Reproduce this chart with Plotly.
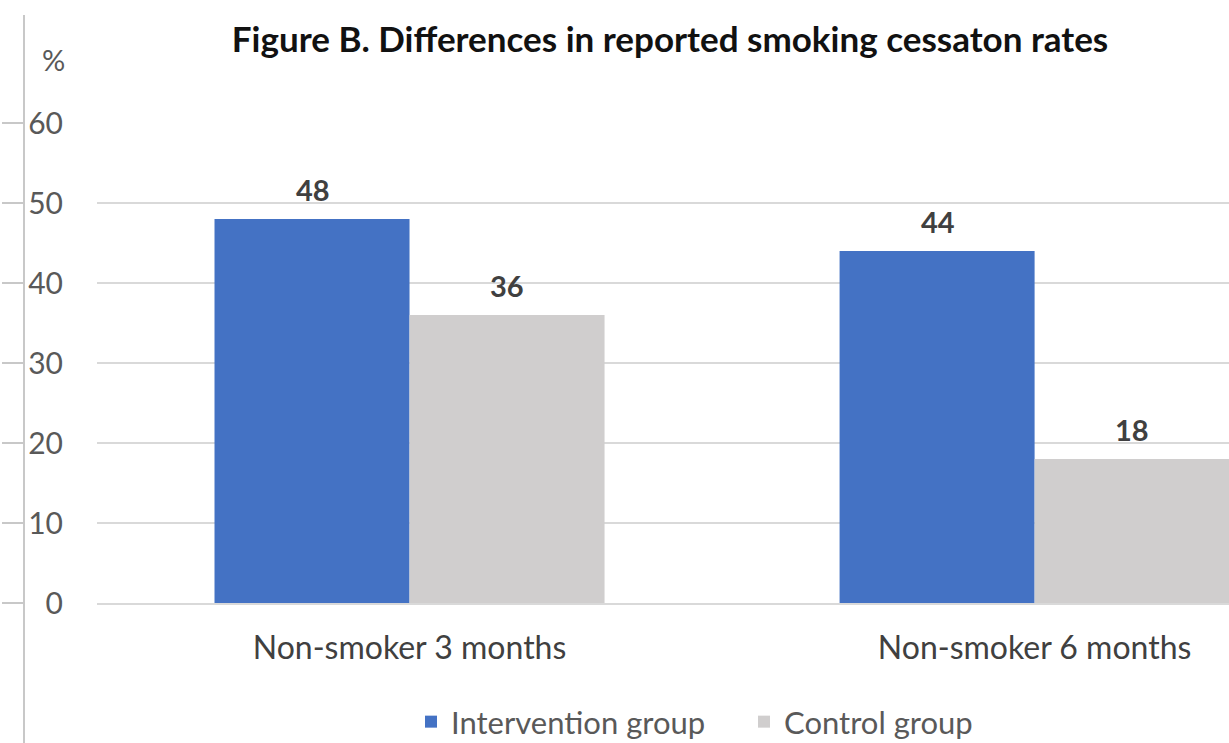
import plotly.graph_objects as go

# Data
categories = ["Non-smoker 3 months", "Non-smoker 6 months"]
intervention = [48, 44]
control = [36, 18]
series_names = ["Intervention group", "Control group"]
y_ticks = [0, 10, 20, 30, 40, 50, 60]

BLUE = "#4472C4"
GREY = "#D0CECE"
FONT = "Lato"

W, H = 1229, 743
L, R, T, B = 20, 0, 123, 140
plot_w = W - L - R
plot_h = H - T - B
x_left_px = 97  # left edge of the plotting area


def px_x(p):
    return (p - L) / plot_w


def px_y(p):
    return (H - B - p) / plot_h


fig = go.Figure()
fig.add_trace(go.Bar(x=categories, y=intervention, name=series_names[0],
                     marker=dict(color=BLUE, line=dict(width=0))))
fig.add_trace(go.Bar(x=categories, y=control, name=series_names[1],
                     marker=dict(color=GREY, line=dict(width=0))))
# carrier for the outer tick axis
fig.add_trace(go.Scatter(x=[], y=[], yaxis="y2", showlegend=False, hoverinfo="skip"))

# value labels above each bar
bar_half = 97
for vals, shift in ((intervention, -bar_half), (control, bar_half)):
    for c, v in zip(categories, vals):
        fig.add_annotation(x=c, y=v, text=f"<b>{v}</b>", showarrow=False,
                           xshift=shift, yshift=30, yanchor="middle",
                           font=dict(family=FONT, size=29, color="#404040"))

# unit label
fig.add_annotation(x=px_x(53), y=px_y(60), xref="paper", yref="paper", text="%",
                   showarrow=False, xanchor="center", yanchor="middle",
                   font=dict(family=FONT, size=29, color="#595959"))

# outer vertical rule
fig.add_shape(type="line", xref="paper", yref="paper",
              x0=px_x(24), x1=px_x(24), y0=px_y(H + 5), y1=px_y(15),
              line=dict(color="#C8C8C8", width=2))

fig.update_layout(
    width=W, height=H,
    margin=dict(l=L, r=R, t=T, b=B, autoexpand=False),
    paper_bgcolor="white", plot_bgcolor="white",
    barmode="group", bargap=0.376, bargroupgap=0,
    title=dict(text="<b>Figure B. Differences in reported smoking cessaton rates</b>",
               x=670 / W, xanchor="center", y=1 - 40 / H, yanchor="middle",
               xref="container", yref="container",
               font=dict(family=FONT, size=35, color="#111111")),
    xaxis=dict(domain=[px_x(x_left_px), 1], range=[-0.5, 1.311],
               showline=True, linecolor="#D9D9D9", linewidth=2,
               ticks="", ticklabelstandoff=16,
               tickfont=dict(family=FONT, size=32, color="#404040")),
    yaxis=dict(range=[0, 60], tickvals=y_ticks, showgrid=True,
               gridcolor="#D9D9D9", gridwidth=2, zeroline=False,
               ticks="", ticklabelstandoff=33,
               tickfont=dict(family=FONT, size=30, color="#595959")),
    yaxis2=dict(overlaying="y", anchor="free", position=px_x(24), side="left",
                range=[0, 60], tickvals=y_ticks, showgrid=False, zeroline=False,
                showline=False, ticks="outside", ticklen=22, tickwidth=2,
                tickcolor="#C8C8C8", showticklabels=False),
    legend=dict(orientation="h", x=px_x(411), xanchor="left",
                y=px_y(722), yanchor="middle",
                entrywidth=288, entrywidthmode="pixels",
                font=dict(family=FONT, size=31, color="#595959"),
                bgcolor="rgba(0,0,0,0)", itemclick=False),
    showlegend=True,
)

fig.write_html("out.html")
